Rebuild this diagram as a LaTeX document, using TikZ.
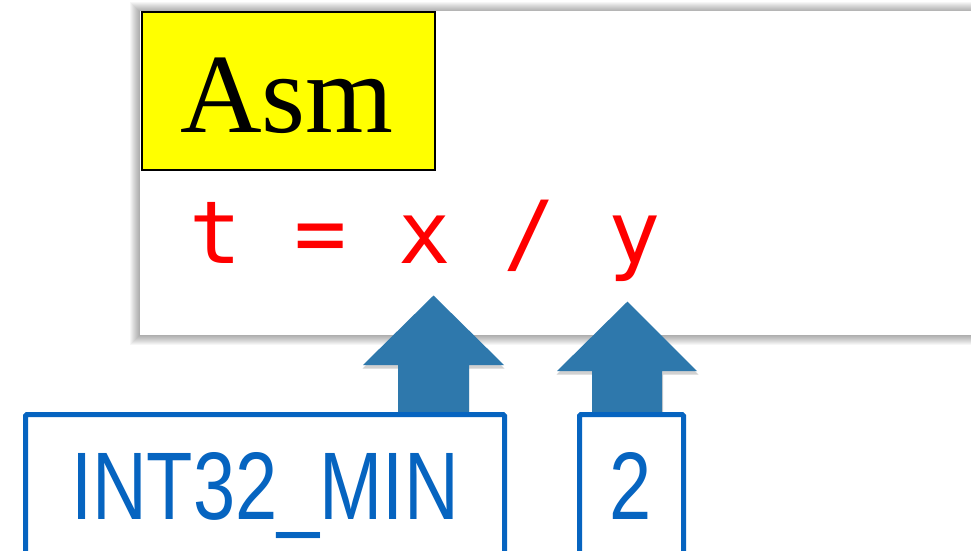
\documentclass[tikz,border=0pt]{standalone}
\usepackage{fontspec}
\usetikzlibrary{calc}
\newfontfamily\asmfont{Liberation Serif}
\newfontfamily\codefont{DejaVu Sans Mono}
\newfontfamily\boxfont{Liberation Sans}
\definecolor{codered}{RGB}{255,0,0}
\definecolor{arrowblue}{RGB}{46,120,172}
\definecolor{boxblue}{RGB}{6,100,192}
\definecolor{asmyellow}{RGB}{255,255,0}
\tikzset{
  panelshadow/.style={fill=black, fill opacity=0.035, draw=none},
  titlebox/.style={draw=black, line width=1.6pt, fill=asmyellow, inner sep=0pt},
  codetext/.style={text=codered, inner sep=0pt, anchor=base, font=\codefont\fontsize{87}{87}\selectfont},
  valbox/.style={draw=boxblue, line width=5pt, rounded corners=1.5pt, fill=white},
  valtext/.style={text=boxblue, inner sep=0pt, anchor=base, font=\boxfont\fontsize{96}{96}\selectfont},
  blockarrow/.style={fill=arrowblue, draw=none},
  arrowshadow/.style={fill=black, fill opacity=0.18, draw=none}
}
\begin{document}
\begin{tikzpicture}[x=1pt,y=-1pt]
\useasboundingbox (0,0) rectangle (971,550);
\clip (0,0) rectangle (971,550);
\fill[white] (0,0) rectangle (971,550);
% panel shadow
\foreach \d in {1,2,...,10}{
  \fill[panelshadow] (140-\d,11-\d+1) rectangle (1000,335+\d);
}
% panel
\fill[white] (140,11) rectangle (1000,335);
\coordinate (panelNW) at (140,11);
% title box
\node[titlebox, minimum width=293pt, minimum height=158pt, anchor=north west] (title) at (141,11) {};
\node[inner sep=0pt, anchor=base, font=\asmfont\fontsize{113}{113}\selectfont] (asm) at (287,132) {Asm};
% code
\node[codetext] (code) at (425,263) {t = x / y};
\coordinate (xtip) at (433.5,295.5);
\coordinate (ytip) at (627.5,301.5);
% arrow shadows
\foreach \t in {xtip,ytip}{
  \fill[arrowshadow] ($(\t)+(0,3)$) -- ($(\t)+(71,73)$) -- ($(\t)+(35.5,73)$) -- ($(\t)+(35.5,120)$) -- ($(\t)+(-35.5,120)$) -- ($(\t)+(-35.5,73)$) -- ($(\t)+(-71,73)$) -- cycle;
}
% arrows
\fill[blockarrow] (xtip) -- ($(xtip)+(70.5,69.5)$) -- ($(xtip)+(35.5,69.5)$) -- ($(xtip)+(35.5,120)$) -- ($(xtip)+(-35.5,120)$) -- ($(xtip)+(-35.5,69.5)$) -- ($(xtip)+(-70.5,69.5)$) -- cycle;
\fill[blockarrow] (ytip) -- ($(ytip)+(69.5,69.5)$) -- ($(ytip)+(34.5,69.5)$) -- ($(ytip)+(34.5,114)$) -- ($(ytip)+(-35.5,114)$) -- ($(ytip)+(-35.5,69.5)$) -- ($(ytip)+(-70.5,69.5)$) -- cycle;
% value boxes
\draw[valbox] (25.5,414.5) rectangle (504.5,600);
\node[inner sep=0pt] (minbox) at (265,480) {};
\node[valtext] (minval) at (265,519) {\scalebox{0.79}[1]{INT32\_MIN}};
\draw[valbox] (579.5,414.5) rectangle (683.5,600);
\node[inner sep=0pt] (twobox) at (631.5,480) {};
\node[valtext] (twoval) at (630.5,519) {\scalebox{0.79}[1]{2}};
\end{tikzpicture}
\end{document}
